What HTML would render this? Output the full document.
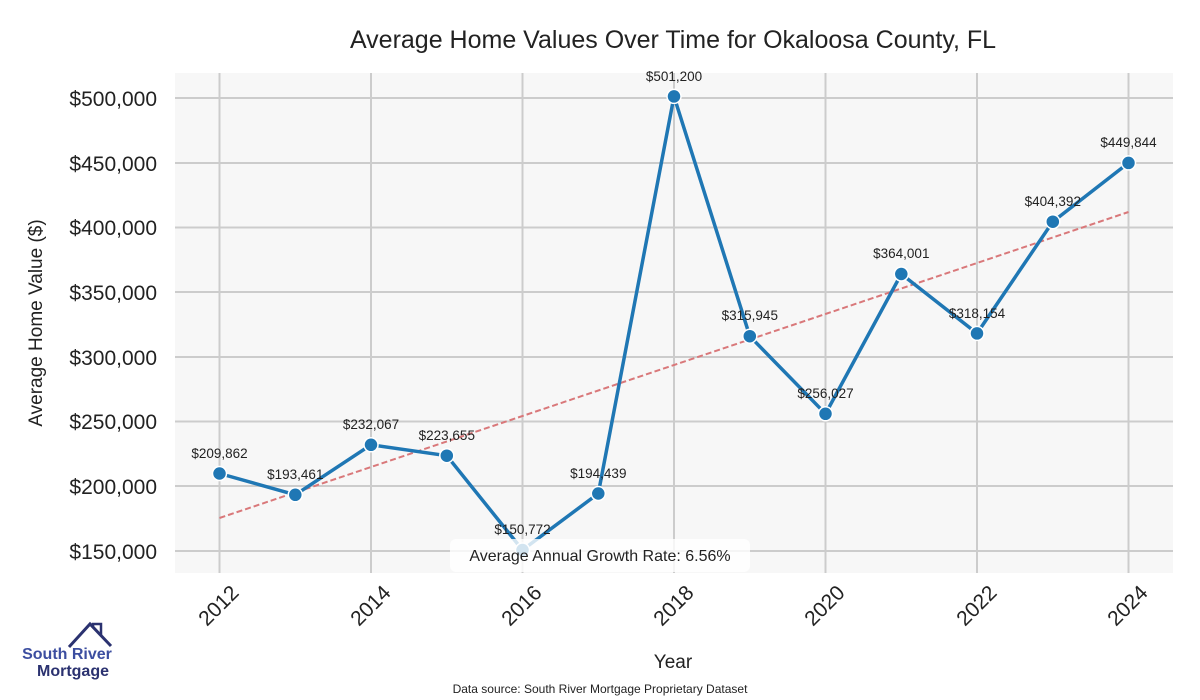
<!DOCTYPE html>
<html><head><meta charset="utf-8"><style>body{margin:0;background:#fff}svg{display:block}</style></head><body>
<svg width="1200" height="700" xmlns="http://www.w3.org/2000/svg" font-family="Liberation Sans, sans-serif">
<rect x="175" y="73" width="998" height="500" fill="#f7f7f7"/>
<g stroke="#cccccc" stroke-width="2">
<line x1="219.5" y1="73" x2="219.5" y2="573"/><line x1="371" y1="73" x2="371" y2="573"/><line x1="522.5" y1="73" x2="522.5" y2="573"/><line x1="674" y1="73" x2="674" y2="573"/><line x1="825.5" y1="73" x2="825.5" y2="573"/><line x1="977" y1="73" x2="977" y2="573"/><line x1="1128.5" y1="73" x2="1128.5" y2="573"/>
<line x1="175" y1="98" x2="1173" y2="98"/><line x1="175" y1="163" x2="1173" y2="163"/><line x1="175" y1="227.5" x2="1173" y2="227.5"/><line x1="175" y1="292" x2="1173" y2="292"/><line x1="175" y1="357" x2="1173" y2="357"/><line x1="175" y1="421.5" x2="1173" y2="421.5"/><line x1="175" y1="486" x2="1173" y2="486"/><line x1="175" y1="551" x2="1173" y2="551"/>
</g>
<g font-size="21" fill="#222" text-anchor="end">
<text x="157" y="106">$500,000</text><text x="157" y="171">$450,000</text><text x="157" y="235">$400,000</text><text x="157" y="300">$350,000</text><text x="157" y="365">$300,000</text><text x="157" y="429">$250,000</text><text x="157" y="494">$200,000</text><text x="157" y="559">$150,000</text>
</g>
<g font-size="21" fill="#222" text-anchor="end">
<text transform="translate(240,594) rotate(-45)">2012</text><text transform="translate(392,594) rotate(-45)">2014</text><text transform="translate(543,594) rotate(-45)">2016</text><text transform="translate(695,594) rotate(-45)">2018</text><text transform="translate(846,594) rotate(-45)">2020</text><text transform="translate(998,594) rotate(-45)">2022</text><text transform="translate(1149,594) rotate(-45)">2024</text>
</g>
<text x="673" y="48" font-size="25" fill="#222" text-anchor="middle">Average Home Values Over Time for Okaloosa County, FL</text>
<text x="673" y="668" font-size="19" fill="#222" text-anchor="middle">Year</text>
<text transform="translate(42,323) rotate(-90)" font-size="19" fill="#222" text-anchor="middle">Average Home Value ($)</text>
<text x="600" y="693" font-size="12" fill="#222" text-anchor="middle">Data source: South River Mortgage Proprietary Dataset</text>
<line x1="219.5" y1="518" x2="1128.5" y2="212" stroke="#d9787a" stroke-width="2" stroke-dasharray="6,3"/>
<polyline fill="none" stroke="#1f77b4" stroke-width="3.5" stroke-linejoin="round" points="219.5,473.5 295.3,494.8 371,444.8 446.8,455.7 522.5,550 598.3,493.5 674,96.4 749.8,336.2 825.5,413.8 901.3,274 977,333.4 1052.8,221.7 1128.5,162.9"/>
<g fill="#1f77b4" stroke="#fff" stroke-width="1.5">
<circle cx="219.5" cy="473.5" r="7"/><circle cx="295.3" cy="494.8" r="7"/><circle cx="371" cy="444.8" r="7"/><circle cx="446.8" cy="455.7" r="7"/><circle cx="522.5" cy="550" r="7"/><circle cx="598.3" cy="493.5" r="7"/><circle cx="674" cy="96.4" r="7"/><circle cx="749.8" cy="336.2" r="7"/><circle cx="825.5" cy="413.8" r="7"/><circle cx="901.3" cy="274" r="7"/><circle cx="977" cy="333.4" r="7"/><circle cx="1052.8" cy="221.7" r="7"/><circle cx="1128.5" cy="162.9" r="7"/>
</g>
<g font-size="13.5" fill="#222" text-anchor="middle">
<text x="219.5" y="458">$209,862</text><text x="295.3" y="479">$193,461</text><text x="371" y="429">$232,067</text><text x="446.8" y="440">$223,655</text><text x="522.5" y="534">$150,772</text><text x="598.3" y="478">$194,439</text><text x="674" y="81">$501,200</text><text x="749.8" y="320">$315,945</text><text x="825.5" y="398">$256,027</text><text x="901.3" y="258">$364,001</text><text x="977" y="318">$318,154</text><text x="1052.8" y="206">$404,392</text><text x="1128.5" y="147">$449,844</text>
</g>
<rect x="450" y="539" width="300" height="33" rx="6" fill="#fff" fill-opacity="0.8"/>
<text x="600" y="561" font-size="16" fill="#222" text-anchor="middle">Average Annual Growth Rate: 6.56%</text>
<polyline points="69,647 90,624 111,646" fill="none" stroke="#2b3270" stroke-width="3"/>
<polyline points="93,627 93,624 101,624 101,636" fill="none" stroke="#2b3270" stroke-width="2.5"/>
<text x="67" y="659" font-size="16" font-weight="bold" fill="#3c4ea0" text-anchor="middle">South River</text>
<text x="73" y="676" font-size="16" font-weight="bold" fill="#2b3270" text-anchor="middle">Mortgage</text>
</svg>
</body></html>
